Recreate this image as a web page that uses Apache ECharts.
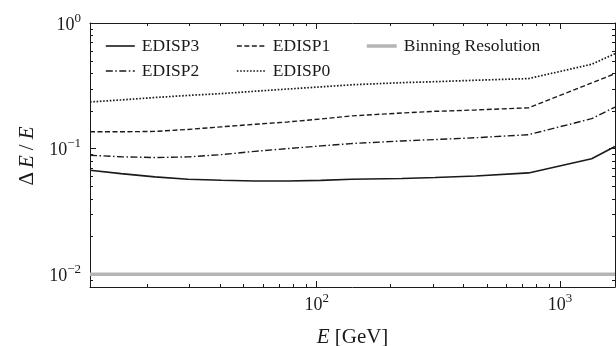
<!DOCTYPE html>
<html><head><meta charset="utf-8">
<script src="https://cdn.jsdelivr.net/npm/echarts@6/dist/echarts.min.js"></script>
<style>html,body{margin:0;padding:0;background:#fff}#c{width:616px;height:346px}</style>
</head><body><div id="c"></div>
<script>
// Energy grid (GeV)
const energy = [11.7, 15.7, 21.6, 29.6, 40.6, 55.6, 76.2, 104, 139, 224, 307, 450, 743, 1350, 1684];
const edisp3 = [0.0672, 0.0632, 0.0595, 0.0570, 0.0560, 0.0552, 0.0552, 0.0558, 0.0570, 0.0577, 0.0588, 0.0605, 0.0640, 0.0830, 0.1040];
const edisp2 = [0.0885, 0.0860, 0.0848, 0.0858, 0.0895, 0.0950, 0.1000, 0.1050, 0.1096, 0.1150, 0.1180, 0.1220, 0.1290, 0.1730, 0.2140];
const edisp1 = [0.136, 0.136, 0.137, 0.142, 0.149, 0.156, 0.163, 0.172, 0.182, 0.192, 0.198, 0.203, 0.211, 0.333, 0.395];
const edisp0 = [0.235, 0.244, 0.255, 0.265, 0.274, 0.286, 0.298, 0.310, 0.322, 0.335, 0.341, 0.350, 0.361, 0.469, 0.570];
const binEnergy = [11.7, 1684];
const binRes = [0.01, 0.01];
const xRange = [11.7, 1684];
const yRange = [0.0079, 1];
const xMinorTicks = [20, 30, 40, 50, 60, 70, 80, 90, 200, 300, 400, 500, 600, 700, 800, 900];
const yMinorTicks = [0.009, 0.02, 0.03, 0.04, 0.05, 0.06, 0.07, 0.08, 0.09, 0.2, 0.3, 0.4, 0.5, 0.6, 0.7, 0.8, 0.9];

const FONT = 'Liberation Serif';
const INK = '#1a1a1a';

function zip(xs, ys) { return xs.map((x, i) => [x, ys[i]]); }

function powLabel(v) {
  const l = Math.log10(v);
  const e = Math.round(l);
  if (Math.abs(l - e) > 1e-6) return '';
  const es = e < 0 ? '\u2212' + (-e) : String(e);
  return '{b|10}{s|' + es + '}';
}
const labelRich = {
  b: { fontFamily: FONT, fontSize: 18, color: INK, lineHeight: 22, verticalAlign: 'bottom' },
  s: { fontFamily: FONT, fontSize: 13, color: INK, lineHeight: 12, verticalAlign: 'top' }
};

function minorTick(dir) {
  return function (params, api) {
    const L = 3;
    const st = { stroke: INK, lineWidth: 1, fill: null };
    if (dir === 'x') {
      const v = api.value(0);
      const a = api.coord([v, yRange[0]]);
      const b = api.coord([v, yRange[1]]);
      const x = Math.round(a[0]) + 0.5;
      return { type: 'group', children: [
        { type: 'line', shape: { x1: x, y1: a[1], x2: x, y2: a[1] - L }, style: st },
        { type: 'line', shape: { x1: x, y1: b[1], x2: x, y2: b[1] + L }, style: st }
      ]};
    } else {
      const v = api.value(1);
      const a = api.coord([xRange[0], v]);
      const b = api.coord([xRange[1], v]);
      const y = Math.round(a[1]) + 0.5;
      return { type: 'group', children: [
        { type: 'line', shape: { x1: a[0], y1: y, x2: a[0] + L, y2: y }, style: st },
        { type: 'line', shape: { x1: b[0], y1: y, x2: b[0] - L, y2: y }, style: st }
      ]};
    }
  };
}

const chart = echarts.init(document.getElementById('c'), null, { renderer: 'canvas' });

const axisCommon = {
  type: 'log',
  logBase: 10,
  axisLine: { show: true, lineStyle: { color: INK, width: 1 } },
  axisTick: { show: true, inside: true, length: 6, lineStyle: { color: INK, width: 1 } },
  splitLine: { show: false },
  minorTick: { show: false },
  minorSplitLine: { show: false }
};

const legendText = { fontFamily: FONT, fontSize: 17.5, color: INK, lineHeight: 18, padding: [0, 0, 0, 2] };
const legendCommon = {
  orient: 'vertical', itemWidth: 29, itemHeight: 14, itemGap: 7, padding: 0, top: 37,
  textStyle: legendText,
  lineStyle: { width: 'inherit' },
  itemStyle: { color: 'rgba(0,0,0,0)', borderColor: 'rgba(0,0,0,0)', borderWidth: 0, opacity: 0 }
};

chart.setOption({
  animation: false,
  backgroundColor: '#fff',
  grid: { left: 90, right: 1, top: 23, bottom: 59, containLabel: false, outerBoundsMode: 'none' },
  legend: [
    Object.assign({}, legendCommon, { left: 105, data: ['EDISP3', 'EDISP2'] }),
    Object.assign({}, legendCommon, { left: 236, data: ['EDISP1', 'EDISP0'] }),
    Object.assign({}, legendCommon, { left: 365, itemWidth: 30, data: ['Binning Resolution'] })
  ],
  xAxis: [
    Object.assign({}, axisCommon, {
      position: 'bottom', min: xRange[0], max: xRange[1],
      axisLabel: { formatter: powLabel, rich: labelRich, margin: 5 },
      name: '{i|E} [GeV]', nameLocation: 'middle', nameGap: 40,
      nameTextStyle: { fontFamily: FONT, fontSize: 21, color: INK,
        rich: { i: { fontFamily: FONT, fontSize: 21, fontStyle: 'italic', color: INK } } }
    }),
    Object.assign({}, axisCommon, {
      position: 'top', min: xRange[0], max: xRange[1],
      axisLabel: { show: false }
    })
  ],
  yAxis: [
    Object.assign({}, axisCommon, {
      position: 'left', min: yRange[0], max: yRange[1],
      axisLabel: { formatter: powLabel, rich: labelRich, margin: 9 },
      name: '{d|\u0394}{i|E}{s|/}{i|E}', nameLocation: 'middle', nameGap: 52, nameRotate: 90,
      nameTextStyle: { fontFamily: FONT, fontSize: 21, color: INK,
        rich: {
          d: { fontFamily: FONT, fontSize: 21, color: INK, padding: [0, 2, 0, 0] },
          i: { fontFamily: FONT, fontSize: 21, fontStyle: 'italic', color: INK, padding: [0, 2, 0, 2] },
          s: { fontFamily: FONT, fontSize: 21, color: INK, padding: [0, 3, 0, 3] }
        } }
    }),
    Object.assign({}, axisCommon, {
      position: 'right', min: yRange[0], max: yRange[1],
      axisLabel: { show: false }
    })
  ],
  series: [
    { name: 'EDISP3', type: 'line', data: zip(energy, edisp3), symbol: 'none',
      lineStyle: { color: INK, width: 1.6, type: 'solid' }, itemStyle: { color: INK } },
    { name: 'EDISP2', type: 'line', data: zip(energy, edisp2), symbol: 'none',
      lineStyle: { color: INK, width: 1.4, type: [7, 2.5, 1.5, 2.5] }, itemStyle: { color: INK } },
    { name: 'EDISP1', type: 'line', data: zip(energy, edisp1), symbol: 'none',
      lineStyle: { color: INK, width: 1.4, type: [5, 2.5] }, itemStyle: { color: INK } },
    { name: 'EDISP0', type: 'line', data: zip(energy, edisp0), symbol: 'none',
      lineStyle: { color: INK, width: 1.7, type: [1.6, 1.7] }, itemStyle: { color: INK } },
    { name: 'Binning Resolution', type: 'line', data: zip(binEnergy, binRes), symbol: 'none',
      lineStyle: { color: '#b5b5b5', width: 3.5 }, itemStyle: { color: '#b5b5b5' }, z: 1 },
    { type: 'custom', coordinateSystem: 'cartesian2d', renderItem: minorTick('x'),
      dimensions: ['x', 'y'], encode: { x: 0, y: 1 },
      data: xMinorTicks.map(v => [v, yRange[0]]), clip: false, silent: true, z: 5 },
    { type: 'custom', coordinateSystem: 'cartesian2d', renderItem: minorTick('y'),
      dimensions: ['x', 'y'], encode: { x: 0, y: 1 },
      data: yMinorTicks.map(v => [xRange[0], v]), clip: false, silent: true, z: 5 }
  ]
});
</script>
</body></html>
